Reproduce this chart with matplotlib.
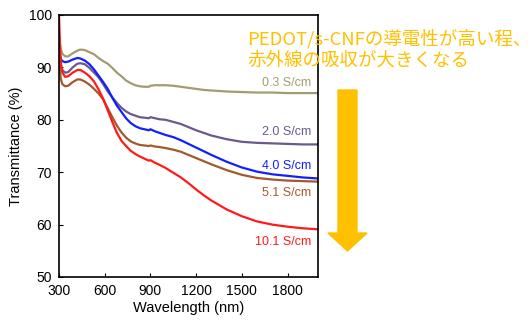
import matplotlib.pyplot as plt
from matplotlib.patches import Polygon

plt.rcParams['font.family'] = ['Liberation Sans', 'Noto Sans CJK JP', 'DejaVu Sans']

# wavelength grid (nm) and transmittance (%)
wavelength = [300, 305, 312, 322, 340, 360, 390, 420, 440, 470,
              500, 530, 560, 590, 620, 650, 680, 710, 740, 770,
              800, 830, 860, 890, 900, 930, 960, 1000, 1050, 1100,
              1150, 1200, 1250, 1300, 1400, 1500, 1600, 1700, 1800, 1900,
              2000]
t_03 = [96.5, 94.8, 93.4, 92.6, 92.1, 92.1, 92.7, 93.2, 93.4, 93.3,
        92.9, 92.5, 91.8, 91.2, 90.7, 89.9, 89.0, 88.3, 87.5, 87.0,
        86.6, 86.4, 86.3, 86.3, 86.5, 86.6, 86.6, 86.6, 86.5, 86.3,
        86.1, 85.9, 85.7, 85.6, 85.4, 85.3, 85.2, 85.2, 85.1, 85.1,
        85.1]
t_20 = [92.5, 91.5, 90.3, 89.5, 89.0, 89.1, 90.0, 90.7, 90.8, 90.6,
        89.9, 89.0, 88.1, 86.8, 85.4, 84.3, 83.2, 82.3, 81.6, 81.1,
        80.8, 80.5, 80.4, 80.3, 80.5, 80.3, 80.1, 80.0, 79.6, 79.2,
        78.6, 78.0, 77.5, 77.0, 76.3, 75.8, 75.6, 75.5, 75.4, 75.3,
        75.3]
t_40 = [93.5, 92.5, 91.6, 91.2, 91.0, 91.1, 91.5, 91.8, 91.7, 91.3,
        90.6, 89.6, 88.4, 87.2, 85.9, 84.2, 82.7, 81.5, 80.3, 79.4,
        78.8, 78.4, 78.2, 78.0, 78.2, 77.8, 77.5, 77.1, 76.7, 76.1,
        75.4, 74.7, 74.0, 73.3, 72.0, 70.9, 70.1, 69.6, 69.3, 69.0,
        68.8]
t_51 = [92.0, 89.8, 87.8, 86.8, 86.4, 86.5, 87.2, 87.7, 87.7, 87.3,
        86.7, 85.9, 85.0, 83.9, 82.2, 80.5, 78.9, 77.6, 76.6, 75.9,
        75.5, 75.2, 75.1, 75.0, 75.1, 74.9, 74.8, 74.6, 74.3, 73.9,
        73.3, 72.7, 72.1, 71.5, 70.4, 69.5, 68.9, 68.6, 68.4, 68.3,
        68.2]
t_101 = [100.0, 95.5, 91.0, 89.0, 88.2, 88.3, 89.0, 89.5, 89.5, 89.0,
         88.3, 87.3, 85.8, 84.0, 81.8, 79.6, 77.5, 76.0, 75.0, 74.1,
         73.5, 73.0, 72.6, 72.2, 72.3, 71.8, 71.4, 70.8, 69.9, 69.0,
         67.9, 66.7, 65.6, 64.6, 62.9, 61.6, 60.6, 60.0, 59.6, 59.3,
         59.1]

series = [t_03, t_20, t_40, t_51, t_101]
labels = ['0.3 S/cm', '2.0 S/cm', '4.0 S/cm', '5.1 S/cm', '10.1 S/cm']
label_y = [87.0, 77.7, 71.2, 66.0, 56.7]
colors = ['#a29c72', '#6a5a8c', '#1020ff', '#a3592c', '#ff1a1a']

fig = plt.figure(figsize=(5.32, 3.22), dpi=100)
ax = fig.add_axes([59 / 532, 45 / 322, 259 / 532, 262 / 322])

for ys, lab, ly, c in zip(series, labels, label_y, colors):
    ax.plot(wavelength, ys, color=c, lw=1.6)
    ax.text(1957, ly, lab, color=c, fontsize=9, ha='right', va='center')

ax.set_xlim(300, 2000)
ax.set_ylim(50, 100)
ax.set_xticks([300, 600, 900, 1200, 1500, 1800])
ax.set_yticks([50, 60, 70, 80, 90, 100])
ax.tick_params(direction='in', length=3, labelsize=10, pad=5)
for s in ax.spines.values():
    s.set_linewidth(1.2)
ax.set_xlabel('Wavelength (nm)', fontsize=10.5, labelpad=2)
ax.set_ylabel('Transmittance (%)', fontsize=10.5, labelpad=4)

fig.text(247 / 532, 1 - 49 / 322, 'PEDOT/s-CNFの導電性が高い程、\n赤外線の吸収が大きくなる',
         color='#ffc000', fontsize=13.3, family=['Noto Sans CJK JP'],
         ha='left', va='center', linespacing=1.2, zorder=10)

# big downward arrow
W, H = 532, 322
pts = [(338, 90), (357, 90), (357, 233), (367, 233), (347.5, 251), (328, 233), (338, 233)]
fig.patches.append(Polygon([(x / W, 1 - y / H) for x, y in pts], closed=True,
                           transform=fig.transFigure, color='#ffc000', zorder=5))

fig.savefig('out.png', dpi=100)
